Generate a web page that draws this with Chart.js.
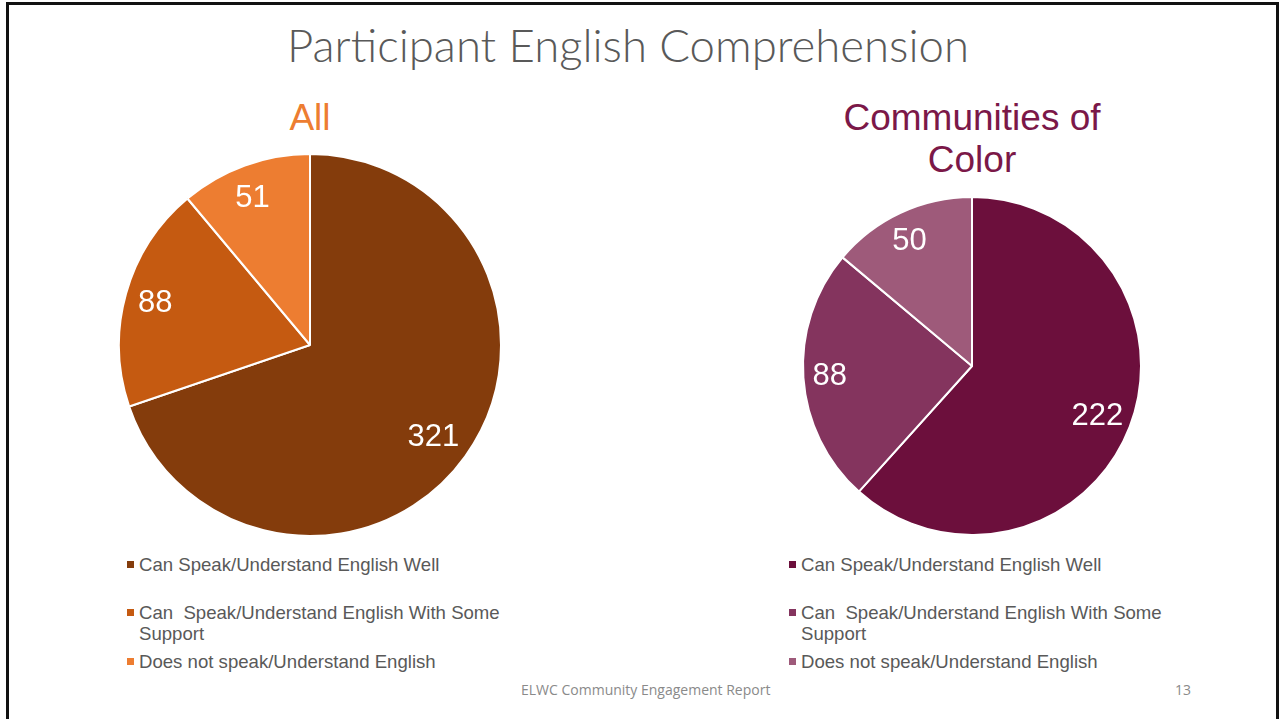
<!DOCTYPE html>
<html>
<head>
<meta charset="utf-8">
<script src="https://cdn.jsdelivr.net/npm/chart.js@4"></script>
<style>
  html, body { margin:0; padding:0; background:#fff; }
  body { width:1284px; height:719px; position:relative; overflow:hidden; }
  #frame { position:absolute; left:6px; top:2px; width:1273px; height:730px; border:3px solid #111; box-sizing:border-box; border-bottom:none; }
  #title { position:absolute; left:0; width:1256px; top:17px; text-align:center; font-family:"Lato", sans-serif; font-weight:300; font-size:45.5px; color:#595959; white-space:nowrap; }
  .subtitle { position:absolute; text-align:center; font-family:"Liberation Sans", Arial, sans-serif; font-size:37px; line-height:42px; }
  #subAll { left:110px; width:400px; top:97px; color:#ED7D31; }
  #subCoc { left:772px; width:400px; top:97px; color:#7B1848; }
  canvas { position:absolute; }
  .legend { position:absolute; font-family:"Liberation Sans", Arial, sans-serif; font-size:18.6px; line-height:21px; color:#595959; }
  .legend .item { position:absolute; left:0; width:390px; padding-left:12px; white-space:pre-wrap; }
  .legend .sw { position:absolute; left:0; top:7px; width:7px; height:7px; }
  #footer { position:absolute; left:521px; top:680px; font-family:"Open Sans", sans-serif; font-size:14px; color:#8a8a8a; white-space:nowrap; }
  #pageno { position:absolute; left:1175px; top:680px; font-family:"Open Sans", sans-serif; font-size:14px; color:#8a8a8a; }
</style>
</head>
<body>
<div id="frame"></div>
<div id="title">Participant English Comprehension</div>
<div class="subtitle" id="subAll">All</div>
<div class="subtitle" id="subCoc">Communities of<br>Color</div>
<canvas id="pieAll" width="400" height="400" style="left:110px;top:145px;"></canvas>
<canvas id="pieCoc" width="360" height="360" style="left:792px;top:186px;"></canvas>
<div class="legend" id="legAll" style="left:127px;top:554px;"></div>
<div class="legend" id="legCoc" style="left:789px;top:554px;"></div>
<div id="footer">ELWC Community Engagement Report</div>
<div id="pageno">13</div>
<script>
const categories = [
  "Can Speak/Understand English Well",
  "Can  Speak/Understand English With Some Support",
  "Does not speak/Understand English"
];
const valuesAll = [321, 88, 51];
const valuesCoc = [222, 88, 50];
const colorsAll = ["#843C0C", "#C55A11", "#ED7D31"];
const colorsCoc = ["#6C0F3C", "#84345E", "#9E5A7A"];
const legendRowTops = [0, 48, 97];

const sliceLabels = {
  id: "sliceLabels",
  afterDatasetsDraw(chart) {
    const ctx = chart.ctx;
    const meta = chart.getDatasetMeta(0);
    const data = chart.data.datasets[0].data;
    ctx.save();
    ctx.fillStyle = "#ffffff";
    ctx.font = "31px 'Liberation Sans', Arial, sans-serif";
    ctx.textAlign = "center";
    ctx.textBaseline = "middle";
    meta.data.forEach((arc, i) => {
      const p = arc.getProps(["x", "y", "startAngle", "endAngle", "outerRadius"], true);
      const mid = (p.startAngle + p.endAngle) / 2;
      const r = p.outerRadius * 0.82;
      ctx.fillText(String(data[i]), p.x + Math.cos(mid) * r - 4, p.y + Math.sin(mid) * r + 1);
    });
    ctx.restore();
  }
};

function makePie(id, values, colors, pad) {
  return new Chart(document.getElementById(id), {
    type: "pie",
    data: {
      labels: categories,
      datasets: [{
        data: values,
        backgroundColor: colors,
        borderColor: "#ffffff",
        borderWidth: 2,
        hoverOffset: 0
      }]
    },
    options: {
      responsive: false,
      animation: false,
      layout: { padding: pad },
      plugins: { legend: { display: false }, tooltip: { enabled: false }, title: { display: false } }
    },
    plugins: [sliceLabels]
  });
}

function makeLegend(id, colors) {
  const el = document.getElementById(id);
  categories.forEach((c, i) => {
    const item = document.createElement("div");
    item.className = "item";
    item.style.top = legendRowTops[i] + "px";
    const sw = document.createElement("span");
    sw.className = "sw";
    sw.style.background = colors[i];
    item.appendChild(sw);
    item.appendChild(document.createTextNode(c));
    el.appendChild(item);
  });
}

makePie("pieAll", valuesAll, colorsAll, 8);
makePie("pieCoc", valuesCoc, colorsCoc, 10);
makeLegend("legAll", colorsAll);
makeLegend("legCoc", colorsCoc);
</script>
</body>
</html>
